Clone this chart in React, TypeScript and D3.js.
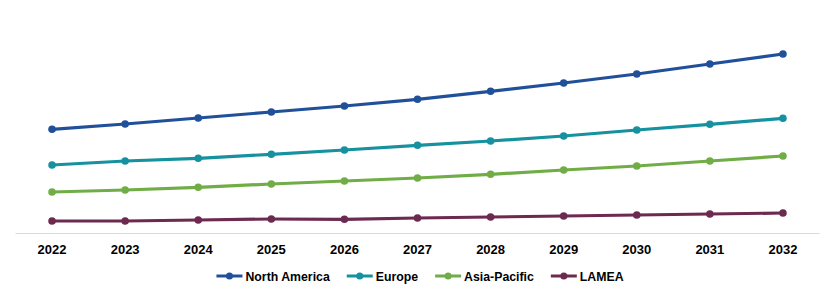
import React, { useEffect, useRef } from "react";
import * as d3 from "d3";

const years = ["2022", "2023", "2024", "2025", "2026", "2027", "2028", "2029", "2030", "2031", "2032"];
const seriesNames = ["North America", "Europe", "Asia-Pacific", "LAMEA"];
const northAmerica = [103.7, 109, 115, 121, 127, 133.7, 141.7, 150, 159, 169, 179];
const europe = [68, 72, 74.7, 78.7, 83, 87.7, 92, 97, 103, 108.7, 114.7];
const asiaPacific = [41, 43, 45.7, 49, 52, 55, 58.7, 63, 67, 72, 77];
const lamea = [12, 12, 13, 14, 13.7, 15, 16, 17, 18, 19, 20];
const colors = ["#21509a", "#15919f", "#70ad47", "#6c2a50"];

const W = 835;
const H = 295;

export default function App() {
  const ref = useRef<SVGSVGElement | null>(null);
  useEffect(() => {
    const svg = d3.select(ref.current);
    svg.selectAll("*").remove();
    const data = [northAmerica, europe, asiaPacific, lamea];

    const x = d3.scaleBand<string>().domain(years).range([15.5, 819.5]);
    const y = d3.scaleLinear().domain([0, 200]).range([233, 33]);
    const cx = (d: string) => (x(d) as number) + x.bandwidth() / 2;

    // axis line
    svg.append("line")
      .attr("x1", 15.5).attr("x2", 819.5)
      .attr("y1", y(0) + 0.5).attr("y2", y(0) + 0.5)
      .attr("stroke", "#d9d9d9").attr("stroke-width", 1);

    // tick labels
    svg.append("g").selectAll("text").data(years).join("text")
      .attr("x", (d) => cx(d))
      .attr("y", 253.5)
      .attr("text-anchor", "middle")
      .attr("font-family", "'Liberation Sans', Arial, sans-serif")
      .attr("font-weight", "bold")
      .attr("font-size", 13)
      .attr("fill", "#000")
      .text((d) => d);

    const line = d3.line<number>()
      .x((_, i) => cx(years[i]))
      .y((v) => y(v));

    data.forEach((vals, si) => {
      const g = svg.append("g");
      g.append("path")
        .attr("d", line(vals) as string)
        .attr("fill", "none")
        .attr("stroke", colors[si])
        .attr("stroke-width", 3.2)
        .attr("stroke-linejoin", "round");
      g.selectAll("circle").data(vals).join("circle")
        .attr("cx", (_, i) => cx(years[i]))
        .attr("cy", (v) => y(v))
        .attr("r", 3.8)
        .attr("fill", colors[si]);
    });

    // legend
    const lg = svg.append("g");
    const items = seriesNames.map((name, i) => {
      const g = lg.append("g");
      g.append("line").attr("x1", 0).attr("x2", 26).attr("y1", 0).attr("y2", 0)
        .attr("stroke", colors[i]).attr("stroke-width", 3);
      g.append("circle").attr("cx", 13).attr("cy", 0).attr("r", 3.5).attr("fill", colors[i]);
      const t = g.append("text")
        .attr("x", 29).attr("y", 4.5)
        .attr("font-family", "'Liberation Sans', Arial, sans-serif")
        .attr("font-weight", "bold")
        .attr("font-size", 12.3)
        .attr("fill", "#000")
        .text(name);
      const w = (t.node() as SVGTextElement).getComputedTextLength();
      return { g, w: 29 + w };
    });
    const gap = 17;
    const total = items.reduce((s, it) => s + it.w, 0) + gap * (items.length - 1);
    let pos = 420 - total / 2;
    items.forEach((it) => {
      it.g.attr("transform", `translate(${pos},276)`);
      pos += it.w + gap;
    });
  }, []);

  return <svg ref={ref} width={W} height={H} style={{ display: "block", position: "absolute", left: 0, top: 0 }} />;
}
